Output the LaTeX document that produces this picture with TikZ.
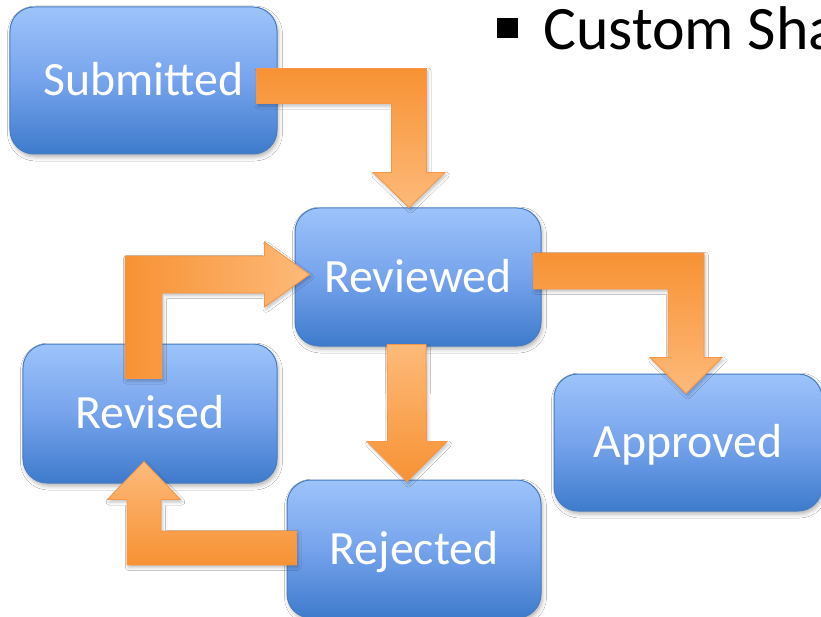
\documentclass[tikz,border=0pt]{standalone}
\usepackage{fontspec}
\setmainfont{Carlito}
\usetikzlibrary{calc,shadows.blur}
\definecolor{boxtop}{RGB}{157,195,250}
\definecolor{boxmid}{RGB}{118,163,236}
\definecolor{boxbot}{RGB}{62,123,204}
\definecolor{boxedge}{RGB}{72,124,190}
\definecolor{ordark}{RGB}{247,146,52}
\definecolor{orlight}{RGB}{253,186,122}
\definecolor{oredge}{RGB}{246,150,70}
% right then down
\newcommand\arrRD[6]{\path[#1] ($(#2)+(0,-#4)$) -- ($(#3|-#2)+(#4,-#4)$) -- ($(#3)+(#4,-#6)$) -- ($(#3)+(#5,-#6)$) -- (#3) -- ($(#3)+(-#5,-#6)$) -- ($(#3)+(-#4,-#6)$) -- ($(#3|-#2)+(-#4,#4)$) -- ($(#2)+(0,#4)$) -- cycle;}
% up then right
\newcommand\arrUR[6]{\path[#1] ($(#2)+(-#4,0)$) -- ($(#2|-#3)+(-#4,-#4)$) -- ($(#3)+(-#6,-#4)$) -- ($(#3)+(-#6,-#5)$) -- (#3) -- ($(#3)+(-#6,#5)$) -- ($(#3)+(-#6,#4)$) -- ($(#2|-#3)+(#4,#4)$) -- ($(#2)+(#4,0)$) -- cycle;}
% left then up
\newcommand\arrLU[6]{\path[#1] ($(#2)+(0,-#4)$) -- ($(#3|-#2)+(#4,-#4)$) -- ($(#3)+(#4,#6)$) -- ($(#3)+(#5,#6)$) -- (#3) -- ($(#3)+(-#5,#6)$) -- ($(#3)+(-#4,#6)$) -- ($(#3|-#2)+(-#4,#4)$) -- ($(#2)+(0,#4)$) -- cycle;}
% straight down
\newcommand\arrDn[6]{\path[#1] ($(#2)+(-#4,0)$) -- ($(#3)+(-#4,-#6)$) -- ($(#3)+(-#5,-#6)$) -- (#3) -- ($(#3)+(#5,-#6)$) -- ($(#3)+(#4,-#6)$) -- ($(#2)+(#4,0)$) -- cycle;}
\begin{document}
\begin{tikzpicture}[x=1bp,y=-1bp,
  state/.style={draw=boxedge, line width=1bp, rounded corners=24bp,
    top color=boxtop, bottom color=boxbot, middle color=boxmid,
    text=white, font=\fontsize{48}{52}\selectfont, inner sep=0pt,
    text height=30bp, text depth=0bp,
    blur shadow={shadow xshift=1.5bp, shadow yshift=-3bp, shadow blur radius=4bp, shadow opacity=30}},
  flow/.style={draw=oredge, line width=0.8bp,
    blur shadow={shadow xshift=1.5bp, shadow yshift=-2.5bp, shadow blur radius=3bp, shadow opacity=25}},
  title/.style={font=\fontsize{62}{66}\selectfont, text=black, inner sep=0pt, anchor=base west}]
\useasboundingbox (0,0) rectangle (821,617);
\clip (0,0) rectangle (821,617);
\fill[white] (0,0) rectangle (821,617);

\node[state, minimum width=267bp, minimum height=147bp] (sub) at (143.5,80.5) {Submitted};
\node[state, minimum width=246bp, minimum height=138bp] (rev) at (418,277) {Reviewed};
\node[state, minimum width=254bp, minimum height=139bp] (revd) at (150,413.5) {Revised};
\node[state, minimum width=254bp, minimum height=138bp] (rej) at (414,549) {Rejected};
\node[state, minimum width=268bp, minimum height=137bp] (app) at (688,442.5) {Approved};

\fill[black] (497,18) rectangle (518,38);
\node[title] (ttl) at (543,50) {Custom Sha};

\coordinate (s1) at ($(sub.east)+(-21,5.5)$);
\coordinate (t1) at ($(rev.north)+(-9,0)$);
\coordinate (s2) at ($(rev.east)+(-8,-6)$);
\coordinate (t2) at ($(app.north)+(-2,20)$);
\coordinate (s3) at ($(revd.north)+(-6.5,35)$);
\coordinate (t3) at ($(rev.west)+(15,-2.5)$);
\coordinate (s4) at ($(rev.south)+(-11.5,-2)$);
\coordinate (t4) at ($(rej.north)+(-7,2)$);
\coordinate (s5) at ($(rej.west)+(10,-1)$);
\coordinate (t5) at ($(revd.south)+(-6,-22)$);

\arrRD{flow, top color=ordark, bottom color=orlight}{s1}{t1}{17.5}{36}{35}
\arrRD{flow, top color=ordark, bottom color=orlight}{s2}{t2}{18}{36}{36}
\arrUR{flow, left color=ordark, right color=orlight}{s3}{t3}{18.5}{32.5}{45}
\arrDn{flow, top color=orlight, bottom color=ordark}{s4}{t4}{19.5}{40}{40}
\arrLU{flow, bottom color=ordark, top color=orlight}{s5}{t5}{17}{36.5}{38}
\end{tikzpicture}
\end{document}
